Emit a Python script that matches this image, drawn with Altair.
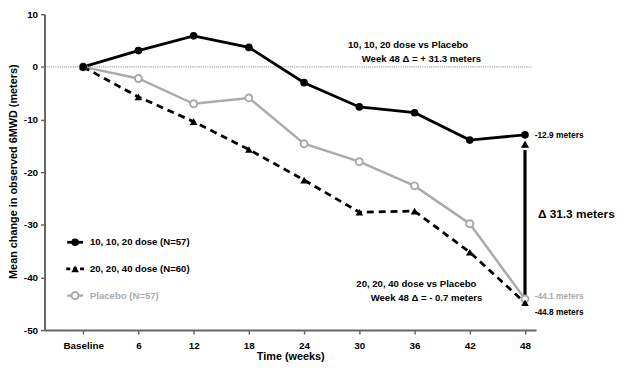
import altair as alt
import pandas as pd

# ---------------- data ----------------
weeks = [0, 6, 12, 18, 24, 30, 36, 42, 48]
dose_10_10_20 = [0, 3.1, 5.9, 3.7, -3.0, -7.6, -8.7, -13.9, -12.9]
dose_20_20_40 = [0, -5.7, -10.4, -15.7, -21.5, -27.6, -27.4, -35.2, -44.8]
placebo = [0, -2.2, -7.0, -5.9, -14.6, -18.0, -22.6, -29.8, -44.1]

legend_labels = ["10, 10, 20 dose (N=57)", "20, 20, 40 dose (N=60)", "Placebo (N=57)"]
x_ticks = [0, 6, 12, 18, 24, 30, 36, 42, 48]
y_ticks = [-50, -40, -30, -20, -10, 0, 10]

ann_text = ["10, 10, 20 dose vs Placebo", "Week 48 \u0394 = + 31.3 meters",
            "20, 20, 40 dose vs Placebo", "Week 48 \u0394 = - 0.7 meters"]
ann_week = [35.3, 36.75, 36.2, 37.3]
ann_value = [4.2, 1.5, -41.3, -43.9]

end_text = ["-12.9 meters", "-44.8 meters"]
end_week = [49.05, 49.05]
end_value = [-12.9, -46.5]
end_grey_text = ["-44.1 meters"]
end_grey_value = [-43.6]

delta_text = ["\u0394 31.3 meters"]
delta_week = [49.4]
delta_value = [-28.0]

arrow_week = [48]
arrow_from = [-44.1]
arrow_to = [-15.8]
arrow_head = [-14.7]

FONT = "Liberation Sans"
BLACK = "#000000"
GREY = "#ababab"
AXIS_GREY = "#666666"

x_scale = alt.Scale(domain=[-4.2, 49.2], nice=False, zero=False)
y_scale = alt.Scale(domain=[-50, 10], nice=False, zero=False)

x_axis = alt.Axis(values=x_ticks, title="Time (weeks)",
                  labelExpr="datum.value == 0 ? 'Baseline' : datum.value + ''",
                  labelFont=FONT, labelFontWeight="bold", labelFontSize=10, labelColor=BLACK,
                  labelPadding=7, tickSize=4, labelFlush=False,
                  titleFont=FONT, titleFontWeight="bold", titleFontSize=11, titleColor=BLACK,
                  titleBaseline="alphabetic", titleY=30)
y_axis = alt.Axis(values=y_ticks, title="Mean change in observed 6MWD (meters)",
                  labelExpr="datum.value + ''",
                  labelFont=FONT, labelFontWeight="bold", labelFontSize=10, labelColor=BLACK,
                  labelPadding=3, tickSize=4, labelFlush=False,
                  titleFont=FONT, titleFontWeight="bold", titleFontSize=11, titleColor=BLACK,
                  titleX=-26, titleY=159)


def X():
    return alt.X("week:Q", scale=x_scale, axis=x_axis)


def Y():
    return alt.Y("value:Q", scale=y_scale, axis=y_axis)


def series_df(vals):
    return pd.DataFrame({"week": weeks, "value": vals})


# zero reference line
zero_df = pd.DataFrame({"week": [-4.2], "week2": [48.7], "value": [0]})
zero_line = alt.Chart(zero_df).mark_rule(color="#777777", strokeWidth=1, strokeDash=[1, 1.2]).encode(
    X(), x2="week2:Q", y=Y())

# series
pl_df = series_df(placebo)
d2_df = series_df(dose_20_20_40)
d1_df = series_df(dose_10_10_20)

pl_line = alt.Chart(pl_df).mark_line(color=GREY, strokeWidth=2.5).encode(X(), Y())
pl_pts = alt.Chart(pl_df).mark_point(shape="circle", size=50, filled=True, fill="white",
                                     stroke=GREY, strokeWidth=2, opacity=1).encode(X(), Y())
d2_line = alt.Chart(d2_df).mark_line(color=BLACK, strokeWidth=2.8, strokeDash=[7, 5]).encode(X(), Y())
d2_pts = alt.Chart(d2_df).mark_point(shape="triangle-up", size=60, filled=True, color=BLACK,
                                     opacity=1).encode(X(), Y())
d1_line = alt.Chart(d1_df).mark_line(color=BLACK, strokeWidth=2.8).encode(X(), Y())
d1_pts = alt.Chart(d1_df).mark_point(shape="circle", size=60, filled=True, color=BLACK,
                                     opacity=1).encode(X(), Y())

# arrow
arrow_df = pd.DataFrame({"week": arrow_week, "value": arrow_from, "value2": arrow_to})
arrow_line = alt.Chart(arrow_df).mark_rule(color=BLACK, strokeWidth=3.2).encode(X(), Y(), y2="value2:Q")
head_df = pd.DataFrame({"week": arrow_week, "value": arrow_head})
arrow_headm = alt.Chart(head_df).mark_point(shape="triangle-up", size=70, filled=True, color=BLACK,
                                            opacity=1).encode(X(), Y())

# annotations
ann_df = pd.DataFrame({"week": ann_week, "value": ann_value, "t": ann_text})
ann = alt.Chart(ann_df).mark_text(font=FONT, fontWeight="bold", fontSize=9.7, color=BLACK,
                                  align="center", baseline="middle").encode(X(), Y(), text="t:N")

end_df = pd.DataFrame({"week": end_week, "value": end_value, "t": end_text})
end_lbl = alt.Chart(end_df).mark_text(font=FONT, fontWeight="bold", fontSize=8.5, color=BLACK,
                                      align="left", baseline="middle").encode(X(), Y(), text="t:N")
endg_df = pd.DataFrame({"week": end_week[:1], "value": end_grey_value, "t": end_grey_text})
endg_lbl = alt.Chart(endg_df).mark_text(font=FONT, fontWeight="bold", fontSize=8.5, color=GREY,
                                        align="left", baseline="middle").encode(X(), Y(), text="t:N")

delta_df = pd.DataFrame({"week": delta_week, "value": delta_value, "t": delta_text})
delta_lbl = alt.Chart(delta_df).mark_text(font=FONT, fontWeight="bold", fontSize=12, color=BLACK,
                                          align="left", baseline="middle").encode(X(), Y(), text="t:N")

# manual legend (pixel positions inside the plot area)
leg_rows_y = [231, 258, 285]
leg_layers = []
# row 1: solid black line + filled circle
leg_layers.append(alt.Chart(pd.DataFrame({"a": [0]})).mark_rule(color=BLACK, strokeWidth=2.8).encode(
    x=alt.value(23), x2=alt.value(39), y=alt.value(leg_rows_y[0])))
leg_layers.append(alt.Chart(pd.DataFrame({"a": [0]})).mark_point(shape="circle", size=60, filled=True,
                                                                 color=BLACK, opacity=1).encode(
    x=alt.value(31), y=alt.value(leg_rows_y[0])))
# row 2: dashed + triangle
leg_layers.append(alt.Chart(pd.DataFrame({"a": [0]})).mark_rule(color=BLACK, strokeWidth=2.8,
                                                                strokeDash=[4, 3]).encode(
    x=alt.value(22), x2=alt.value(41), y=alt.value(leg_rows_y[1])))
leg_layers.append(alt.Chart(pd.DataFrame({"a": [0]})).mark_point(shape="triangle-up", size=60, filled=True,
                                                                 color=BLACK, opacity=1).encode(
    x=alt.value(31), y=alt.value(leg_rows_y[1])))
# row 3: grey line + open circle
leg_layers.append(alt.Chart(pd.DataFrame({"a": [0]})).mark_rule(color=GREY, strokeWidth=2.5).encode(
    x=alt.value(23), x2=alt.value(39), y=alt.value(leg_rows_y[2])))
leg_layers.append(alt.Chart(pd.DataFrame({"a": [0]})).mark_point(shape="circle", size=50, filled=True,
                                                                 fill="white", stroke=GREY, strokeWidth=2,
                                                                 opacity=1).encode(
    x=alt.value(31), y=alt.value(leg_rows_y[2])))
leg_colors = [BLACK, BLACK, GREY]
for lbl, yy, col in zip(legend_labels, leg_rows_y, leg_colors):
    leg_layers.append(alt.Chart(pd.DataFrame({"t": [lbl]})).mark_text(
        font=FONT, fontWeight="bold", fontSize=9.7, color=col, align="left", baseline="middle").encode(
        x=alt.value(46), y=alt.value(yy), text="t:N"))

chart = alt.layer(
    zero_line, pl_line, d2_line, d1_line, arrow_line, arrow_headm,
    pl_pts, d2_pts, d1_pts,
    ann, end_lbl, endg_lbl, delta_lbl,
    *leg_layers
).properties(
    width=498, height=320,
    autosize=alt.AutoSizeParams(type="none"),
    padding={"left": 37, "top": 4, "right": 81, "bottom": 32},
    background="white",
).configure_view(stroke=None).configure_axis(
    domainColor=AXIS_GREY, domainWidth=2, tickColor=AXIS_GREY, tickWidth=1.5, grid=False
)

chart.save("out.html", embed_options={"renderer": "svg", "actions": False})
